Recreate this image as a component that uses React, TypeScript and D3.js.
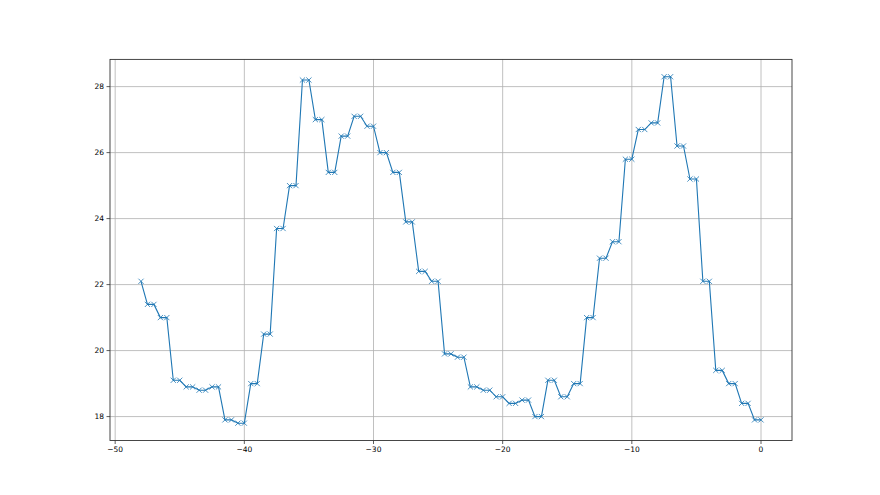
import React from "react";
import * as d3 from "d3";

const xValues: number[] = d3.range(-48, 0.001, 0.5);
// Values for -48, then one value per pair (x-0.5, x) for x = -47..0
const pairValues: number[] = [
  21.4, 21.0, 19.1, 18.9, 18.8, 18.9, 17.9, 17.8, 19.0, 20.5,
  23.7, 25.0, 28.2, 27.0, 25.4, 26.5, 27.1, 26.8, 26.0, 25.4,
  23.9, 22.4, 22.1, 19.9, 19.8, 18.9, 18.8, 18.6, 18.4, 18.5,
  18.0, 19.1, 18.6, 19.0, 21.0, 22.8, 23.3, 25.8, 26.7, 26.9,
  28.3, 26.2, 25.2, 22.1, 19.4, 19.0, 18.4, 17.9,
];
const firstValue = 22.1;
const yValues: number[] = [firstValue, ...pairValues.flatMap((v) => [v, v])];
const xTicks: number[] = [-50, -40, -30, -20, -10, 0];
const yTicks: number[] = [18, 20, 22, 24, 26, 28];

const W = 880;
const H = 495;
const left = 110;
const right = 792;
const top = 59.4;
const bottom = 440.5;

export default function App() {
  const data = xValues.map((x, i) => ({ x, y: yValues[i] }));
  const [xmin, xmax] = d3.extent(xValues) as [number, number];
  const [ymin, ymax] = d3.extent(yValues) as [number, number];
  const xm = (xmax - xmin) * 0.05;
  const ym = (ymax - ymin) * 0.05;
  const x = d3.scaleLinear().domain([xmin - xm, xmax + xm]).range([left, right]);
  const y = d3.scaleLinear().domain([ymin - ym, ymax + ym]).range([bottom, top]);
  const line = d3
    .line<{ x: number; y: number }>()
    .x((d) => x(d.x))
    .y((d) => y(d.y));
  const ms = 2.6;
  const font = "DejaVu Sans, sans-serif";
  return (
    <svg
      width={W}
      height={H}
      style={{ position: "absolute", left: 0, top: 0, background: "#fff" }}
    >
      <rect x={0} y={0} width={W} height={H} fill="#fff" />
      <g>
        {xTicks.map((t) => (
          <line key={"gx" + t} x1={x(t)} x2={x(t)} y1={top} y2={bottom} stroke="#b0b0b0" strokeWidth={0.8} />
        ))}
        {yTicks.map((t) => (
          <line key={"gy" + t} x1={left} x2={right} y1={y(t)} y2={y(t)} stroke="#b0b0b0" strokeWidth={0.8} />
        ))}
      </g>
      <path d={line(data) || ""} fill="none" stroke="#1f77b4" strokeWidth={1.1} />
      <g>
        {data.map((d, i) => (
          <path
            key={i}
            d={`M${x(d.x) - ms},${y(d.y) - ms}L${x(d.x) + ms},${y(d.y) + ms}M${x(d.x) - ms},${y(d.y) + ms}L${x(d.x) + ms},${y(d.y) - ms}`}
            stroke="#1f77b4"
            strokeWidth={0.8}
            fill="none"
          />
        ))}
      </g>
      <rect x={left} y={top} width={right - left} height={bottom - top} fill="none" stroke="#333" strokeWidth={0.9} />
      <g fontFamily={font} fontSize={7.5} fill="#000">
        {xTicks.map((t) => (
          <g key={"tx" + t}>
            <line x1={x(t)} x2={x(t)} y1={bottom} y2={bottom + 3.5} stroke="#333" strokeWidth={0.8} />
            <text x={x(t)} y={bottom + 11.5} textAnchor="middle">
              {t < 0 ? "\u2212" + Math.abs(t) : String(t)}
            </text>
          </g>
        ))}
        {yTicks.map((t) => (
          <g key={"ty" + t}>
            <line x1={left - 3.5} x2={left} y1={y(t)} y2={y(t)} stroke="#333" strokeWidth={0.8} />
            <text x={left - 6} y={y(t)} dy="0.35em" textAnchor="end">
              {t}
            </text>
          </g>
        ))}
      </g>
    </svg>
  );
}
